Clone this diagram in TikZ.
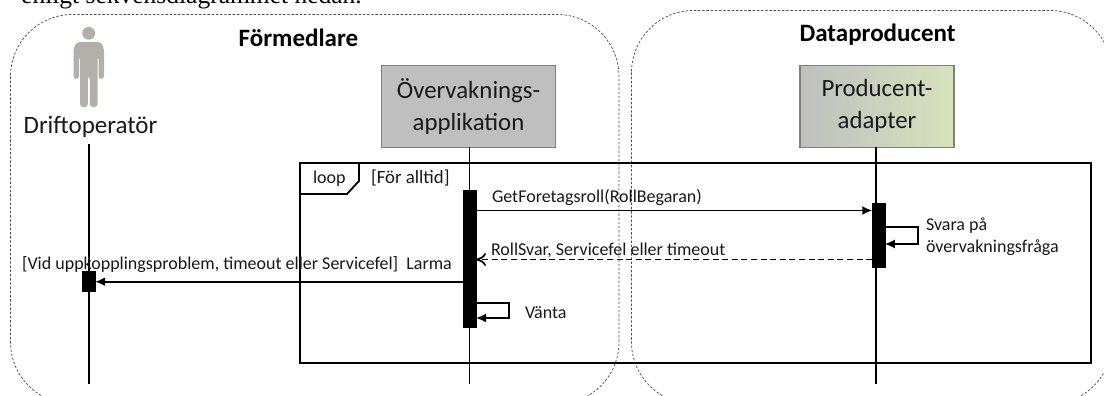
\documentclass[tikz,border=0pt]{standalone}
\usepackage{fontspec}
\setmainfont{Carlito}
\newfontfamily\topfont{Liberation Serif}
\usetikzlibrary{arrows.meta,calc}
\definecolor{personc}{HTML}{B2B0A8}
\definecolor{boxgray}{HTML}{BFBFBF}
\definecolor{boxgreen}{HTML}{D7E3BC}
\tikzset{
  x=1pt,y=-1pt,
  zone/.style={draw=black!70,line width=0.7pt,dash pattern=on 2.4pt off 1.8pt,rounded corners=62pt},
  boxbase/.style={draw=black!50,line width=1.1pt,minimum width=174pt,minimum height=81.5pt,inner sep=0pt,outer sep=0pt,align=center,font=\fontsize{24.8}{32}\selectfont,text=black!90},
  graybox/.style={boxbase,fill=boxgray},
  gradbox/.style={boxbase,minimum width=154pt,left color=boxgray,right color=boxgreen},
  life/.style={draw=black,line width=1.7pt},
  act/.style={fill=black,draw=black,line width=0.2pt,inner sep=0pt,outer sep=0pt},
  msg/.style={draw=black,line width=1.7pt,-{Latex[length=10pt,width=9pt]}},
  reply/.style={draw=black,line width=1.7pt,dash pattern=on 6pt off 3.6pt,-{To[length=10pt,width=13pt]}},
  frame/.style={draw=black,line width=1.8pt},
  lbl/.style={inner sep=0pt,outer sep=0pt,anchor=west,font=\fontsize{18}{21.5}\selectfont,text=black!90,align=left},
  zonetitle/.style={inner sep=0pt,font=\fontsize{25}{28}\selectfont\bfseries},
  person/.style={fill=personc}
}
\begin{document}
\begin{tikzpicture}
\useasboundingbox (0,0) rectangle (1104,396);
\clip (0,0) rectangle (1104,396);
\fill[white] (0,0) rectangle (1104,396);
\node[anchor=base west,inner sep=0pt,font=\topfont\fontsize{25.5}{28}\selectfont] (intro) at (21,4) {enligt sekvensdiagrammet nedan.};
% zones
\draw[zone] (10.5,14.5) rectangle (619,404);
\draw[zone] (631.5,10.5) rectangle (1112,404);
\node[zonetitle] (zf) at (298.5,38) {Förmedlare};
\node[zonetitle] (zd) at (877.5,35) {Dataproducent};
% person
\fill[person] (88.7,33.3) circle (6.4);
\fill[person,rounded corners=3pt] (73.5,79) -- (73.5,48) -- (77,42) -- (100.5,42) -- (104,48) -- (104,79) -- (98.5,79) -- (98.5,56) -- (97.5,56) -- (97.5,107) -- (89.8,107) -- (89.8,76) -- (87.8,76) -- (87.8,107) -- (80,107) -- (80,56) -- (79,56) -- (79,79) -- cycle;
\node[inner sep=0pt,font=\fontsize{25}{28}\selectfont,text=black!90] (drift) at (90.5,127) {Driftoperatör};
% boxes
\node[graybox] (ova) at (468.5,106.3) {Övervaknings-\\applikation};
\node[gradbox] (prod) at (877,106.3) {Producent-\\adapter};
% free ends
\coordinate (dtop) at (88.7,143.5);
\coordinate (dend) at (88.7,384);
\coordinate (oend) at (469.5,384);
\coordinate (pend) at (876.3,384);
% loop frame
\draw[frame] (300,162.7) rectangle (1091,363);
\draw[frame] (359,162.7) -- (359,181) -- (347,194) -- (300,194);
\node[lbl] (loopl) at (313,179) {loop};
\node[lbl,font=\fontsize{18.8}{22}\selectfont] (guard) at (371,178) {[För alltid]};
% lifelines
\draw[life] (dtop) -- (dend);
\draw[life] (ova.south -| oend) -- (oend);
\draw[life] (prod.south -| pend) -- (pend);
% activations
\node[act,minimum width=13pt,minimum height=137pt] (aova) at (469.5,258.5) {};
\node[act,minimum width=12.5pt,minimum height=64pt] (aprod) at (878.5,235) {};
\node[act,minimum width=13pt,minimum height=20pt] (adrift) at (88.7,281) {};
% messages
\coordinate (m1) at (0,210.5);
\coordinate (m2) at (0,259.5);
\coordinate (m3) at (0,281.7);
\draw[msg] (aova.east |- m1) -- (aprod.west |- m1);
\draw[reply] (aprod.west |- m2) -- (aova.east |- m2);
\draw[msg] (aova.west |- m3) -- (adrift.east |- m3);
\draw[msg] (aova.east |- 0,303) -| (509,318) -- (aova.east |- 0,318);
\draw[msg] (aprod.east |- 0,226.7) -| (918,244) -- (aprod.east |- 0,244);
% labels
\node[lbl] (t1) at (492,197.5) {GetForetagsroll(RollBegaran)};
\node[lbl] (t2) at (491,250) {RollSvar, Servicefel eller timeout};
\node[lbl] (t3) at (22,265) {[Vid uppkopplingsproblem, timeout eller Servicefel]\ \ Larma};
\node[lbl] (t4) at (525,313) {Vänta};
\node[lbl] (t5) at (926,236.5) {Svara på\\övervakningsfråga};
\end{tikzpicture}
\end{document}
